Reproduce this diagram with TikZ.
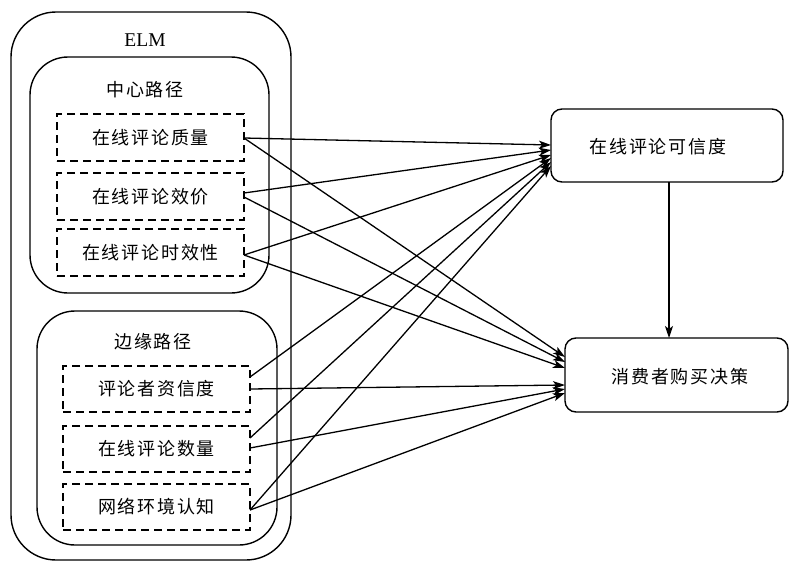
\documentclass[tikz,border=0pt]{standalone}
\usepackage{fontspec}
\setmainfont{Liberation Serif}
\newfontfamily\cjk{Noto Sans CJK SC}[LetterSpace=10]
\usetikzlibrary{arrows.meta}
\begin{document}
\begin{tikzpicture}[x=1pt,y=-1pt,
  every node/.style={inner sep=0pt,outer sep=0pt},
  group/.style={draw,line width=1.4pt,rounded corners=#1},
  grouptxt/.style={font=\cjk\fontsize{18}{20}\selectfont},
  dbox/.style={draw,line width=1.4pt,dash pattern=on 8pt off 5pt,minimum width=187pt,minimum height=46pt,font=\cjk\fontsize{18}{20}\selectfont},
  rbox/.style={draw,line width=1.4pt,rounded corners=11pt,font=\cjk\fontsize{18}{20}\selectfont},
  arr/.style={line width=1.3pt,-{Stealth[length=12pt,width=8pt,inset=3pt]}}]
\useasboundingbox (0,0) rectangle (789,562);
% groups
\node[group=45pt,minimum width=280pt,minimum height=548pt] (outer) at (151,286) {};
\node[group=38pt,minimum width=239pt,minimum height=236pt] (central) at (149.5,175) {};
\node[group=38pt,minimum width=240pt,minimum height=234pt] (periph) at (157,428) {};
\node[font=\fontsize{19.5}{21}\selectfont] (elm) at (145,40) {ELM};
\node[grouptxt] (ctitle) at (145,90) {中心路径};
\node[grouptxt] (ptitle) at (153,342) {边缘路径};
% dashed boxes
\node[dbox,minimum height=47pt] (q1) at (150.5,137.5) {在线评论质量};
\node[dbox,minimum height=47pt] (q2) at (150.5,196.5) {在线评论效价};
\node[dbox,minimum height=47pt] (q3) at (150.5,252.5) {在线评论时效性};
\node[dbox] (p1) at (156.5,389) {评论者资信度};
\node[dbox] (p2) at (156.5,449) {在线评论数量};
\node[dbox] (p3) at (156.5,507) {网络环境认知};
% right boxes
\node[rbox,minimum width=232pt,minimum height=73pt] (cred) at (667,145.5) {};
\node[grouptxt] (credtxt) at (658,147) {在线评论可信度};
\node[rbox,minimum width=223pt,minimum height=74pt] (dec) at (676.5,375) {};
\node[grouptxt] (dectxt) at (680,377) {消费者购买决策};
% arrows to credibility
\draw[arr] ([yshift=-0.5pt]q1.east) -- ([yshift=0.5pt]cred.west);
\draw[arr] ([yshift=3.5pt]q2.east) -- ([yshift=-4.5pt]cred.west);
\draw[arr] ([yshift=-2.5pt]q3.east) -- ([yshift=-9.5pt]cred.west);
\draw[arr] ([yshift=12pt]p1.east) -- ([yshift=-12.5pt]cred.west);
\draw[arr] ([yshift=11pt]p2.east) -- ([yshift=-16.5pt]cred.west);
\draw[arr] ([yshift=-3pt]p3.east) -- ([yshift=-20.5pt]cred.west);
% arrows to decision
\draw[arr] ([yshift=-0.5pt]q1.east) -- ([yshift=18pt]dec.west);
\draw[arr] ([yshift=-0.5pt]q2.east) -- ([yshift=13pt]dec.west);
\draw[arr] ([yshift=-2.5pt]q3.east) -- ([yshift=7pt]dec.west);
\draw[arr] (p1.east) -- ([yshift=-10pt]dec.west);
\draw[arr] ([yshift=1pt]p2.east) -- ([yshift=-14pt]dec.west);
\draw[arr] ([yshift=-3pt]p3.east) -- ([yshift=-18pt]dec.west);
% credibility to decision
\path (cred.south -| dectxt.center) ++(-11pt,0) coordinate (vs);
\coordinate (ve) at (dec.north -| vs);
\draw[arr] (vs) -- (ve);
\end{tikzpicture}
\end{document}
